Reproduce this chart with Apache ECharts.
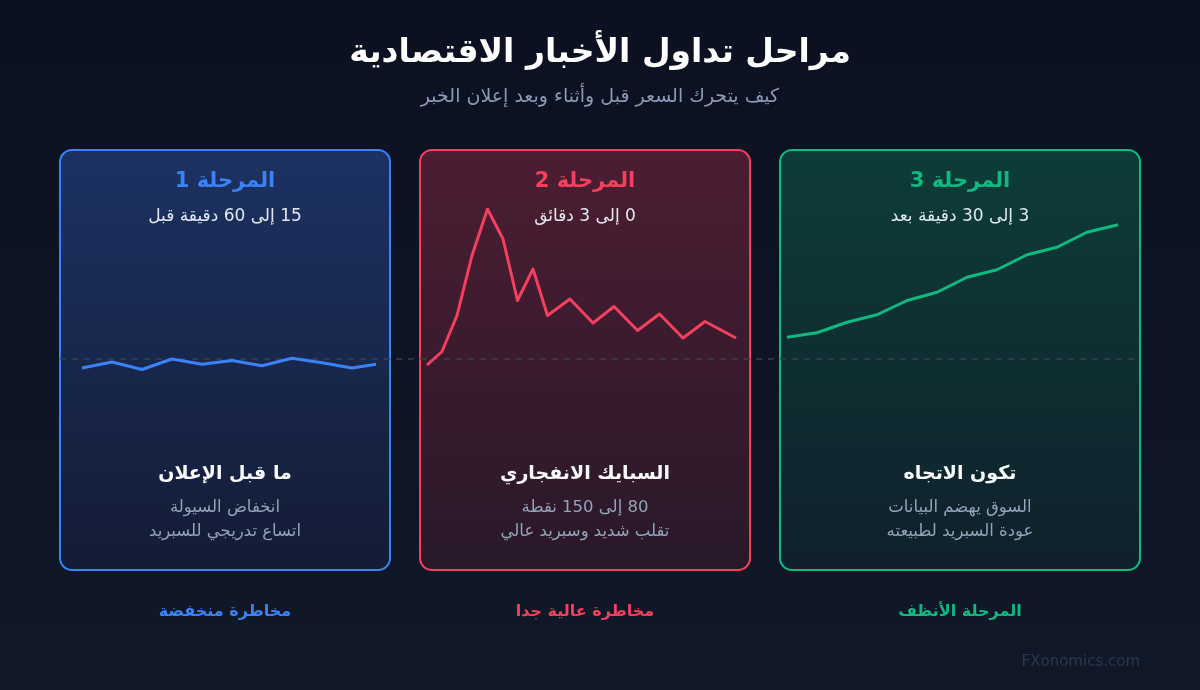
<!DOCTYPE html>
<html>
<head>
<meta charset="utf-8">
<script src="https://cdn.jsdelivr.net/npm/echarts@6/dist/echarts.min.js"></script>
<style>
html,body{margin:0;padding:0;background:#0d1322;}
#chart{width:1200px;height:690px;}
</style>
</head>
<body>
<div id="chart" dir="rtl"></div>
<script>
// ---- Data ----
const titleText = 'مراحل تداول الأخبار الاقتصادية';
const subtitleText = 'كيف يتحرك السعر قبل وأثناء وبعد إعلان الخبر';
const phaseTitles = ['المرحلة 1', 'المرحلة 2', 'المرحلة 3'];
const phaseTimes = ['15 إلى 60 دقيقة قبل', '0 إلى 3 دقائق', '3 إلى 30 دقيقة بعد'];
const phaseNames = ['ما قبل الإعلان', 'السبايك الانفجاري', 'تكون الاتجاه'];
const phaseDesc1 = ['انخفاض السيولة', '80 إلى 150 نقطة', 'السوق يهضم البيانات'];
const phaseDesc2 = ['اتساع تدريجي للسبريد', 'تقلب شديد وسبريد عالي', 'عودة السبريد لطبيعته'];
const riskLabels = ['مخاطرة منخفضة', 'مخاطرة عالية جدا', 'المرحلة الأنظف'];
const watermark = 'FXonomics.com';

// time steps (x) and price move (y) per phase
const phase1X = [0, 30, 60, 90, 120, 150, 180, 210, 240, 270, 294];
const phase1Y = [-6, -2, -7, 0, -3.5, -1, -4.5, 0.5, -2.5, -6, -3.5];
const phase2X = [0, 15, 30, 45, 60.5, 76, 90.5, 106, 120.5, 143, 166, 187, 210.5, 232.5, 256, 278, 309];
const phase2Y = [-4, 5, 29, 69, 100, 80, 39, 60, 29, 40, 24, 35, 19, 30, 14, 25, 14];
const phase3X = [0, 30, 60, 90, 120, 150, 180, 210, 240, 270, 300, 331];
const phase3Y = [14.5, 17.5, 24.5, 29.5, 39, 44.5, 54.5, 59.5, 69.5, 74.5, 84.5, 89.5];

// ---- Styling / layout ----
const colors = ['#3b82f6', '#f43f5e', '#10b981'];
const panelFill = [['#1d3263', '#131c35'], ['#4d1d32', '#28192a'], ['#0d3d38', '#10202b']];
const panels = [{x: 60, w: 330}, {x: 420, w: 330}, {x: 780, w: 360}];
const panelTop = 150, panelH = 420;
const gridsPos = [{left: 82, width: 294}, {left: 427, width: 309}, {left: 787, width: 331}];
const xs = [phase1X, phase2X, phase3X];
const ys = [phase1Y, phase2Y, phase3Y];
const font = '"DejaVu Sans", "Noto Sans", sans-serif';

const chart = echarts.init(document.getElementById('chart'));

const grids = [], xAxes = [], yAxes = [], series = [];
for (let i = 0; i < 3; i++) {
  grids.push({left: gridsPos[i].left, width: gridsPos[i].width, top: 209, height: 300, containLabel: false});
  const xmax = xs[i][xs[i].length - 1];
  xAxes.push({type: 'value', gridIndex: i, min: 0, max: xmax, show: false});
  yAxes.push({type: 'value', gridIndex: i, min: -100, max: 100, show: false});
  series.push({
    type: 'line', xAxisIndex: i, yAxisIndex: i,
    data: xs[i].map((x, k) => [x, ys[i][k]]),
    symbol: 'none', smooth: false, z: 5,
    lineStyle: {color: colors[i], width: 3, join: 'round'},
    silent: true
  });
}

function txt(x, y, text, fill, f, align) {
  return {type: 'text', z: 10, x: x, y: y, silent: true,
    style: {text: text, fill: fill, font: f, align: align || 'center', verticalAlign: 'middle'}};
}

const graphics = [];
graphics.push({type: 'rect', z: -10, silent: true, shape: {x: 0, y: 0, width: 1200, height: 690},
  style: {fill: {type: 'linear', x: 0, y: 0, x2: 0, y2: 1, colorStops: [{offset: 0, color: '#0b1120'}, {offset: 1, color: '#111827'}]}}});
for (let i = 0; i < 3; i++) {
  const p = panels[i];
  const cx = p.x + p.w / 2;
  graphics.push({type: 'rect', z: -5, silent: true,
    shape: {x: p.x, y: panelTop, width: p.w, height: panelH, r: 12},
    style: {fill: {type: 'linear', x: 0, y: 0, x2: 0, y2: 1, colorStops: [{offset: 0, color: panelFill[i][0]}, {offset: 1, color: panelFill[i][1]}]},
      stroke: colors[i], lineWidth: 2}});
  graphics.push(txt(cx, 182, phaseTitles[i], colors[i], 'bold 21px ' + font));
  graphics.push(txt(cx, 217, phaseTimes[i], '#e2e8f0', '17px ' + font));
  graphics.push(txt(cx, 474, phaseNames[i], '#f8fafc', 'bold 19px ' + font));
  graphics.push(txt(cx, 508, phaseDesc1[i], '#94a3b8', '16.5px ' + font));
  graphics.push(txt(cx, 532, phaseDesc2[i], '#94a3b8', '16.5px ' + font));
  graphics.push(txt(cx, 612, riskLabels[i], colors[i], 'bold 16px ' + font));
}
graphics.push(txt(600, 53, titleText, '#ffffff', 'bold 33px ' + font));
graphics.push(txt(600, 97, subtitleText, '#8b9ab5', '19px ' + font));
graphics.push(txt(1140, 662, watermark, '#2b3650', '15px ' + font, 'right'));
graphics.push({id: 'baseline', type: 'line', z: 1, silent: true, shape: {x1: 60, y1: 359, x2: 1140, y2: 359},
  style: {stroke: '#374151', lineWidth: 1.5, lineDash: [6, 6]}});

chart.setOption({
  animation: false,
  grid: grids, xAxis: xAxes, yAxis: yAxes, series: series,
  graphic: graphics
});

const by = chart.convertToPixel({gridIndex: 0}, [0, 0])[1];
chart.setOption({graphic: [{id: 'baseline', shape: {x1: 60, y1: by, x2: 1140, y2: by}}]});
</script>
</body>
</html>
